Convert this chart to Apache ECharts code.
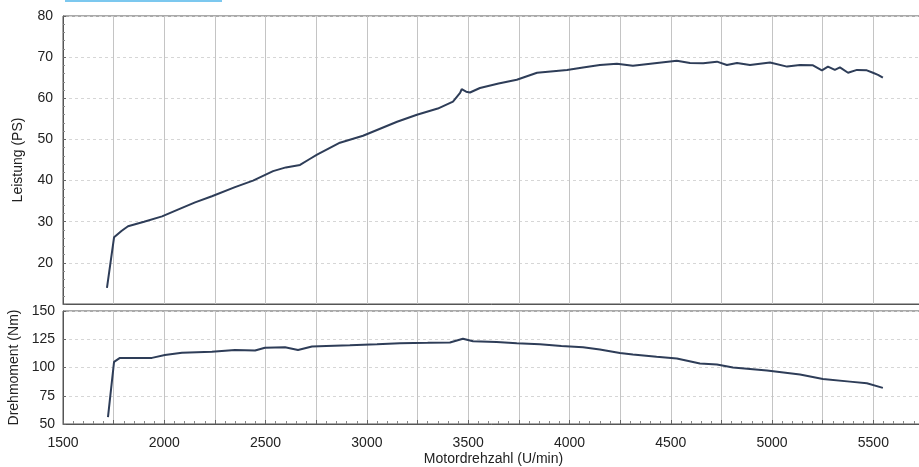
<!DOCTYPE html>
<html>
<head>
<meta charset="utf-8">
<script src="https://cdn.jsdelivr.net/npm/echarts@6/dist/echarts.min.js"></script>
<style>
  html, body { margin: 0; padding: 0; background: #fff; }
  #chart { width: 919px; height: 467px; }
</style>
</head>
<body>
<div id="chart"></div>
<script>
// Leistung (PS) over rpm
const powerRpm = [1717, 1752, 1790, 1821, 1900, 1989, 2070, 2152, 2235, 2349, 2438, 2537, 2600, 2670, 2720, 2754, 2867, 2981, 3050, 3149, 3247, 3350, 3425, 3460, 3468, 3490, 3509, 3558, 3650, 3740, 3840, 3988, 4067, 4150, 4234, 4313, 4432, 4530, 4595, 4660, 4728, 4777, 4827, 4891, 4990, 5074, 5138, 5202, 5246, 5276, 5310, 5335, 5375, 5419, 5468, 5498, 5523, 5547];
const powerPS = [13.9, 26.2, 27.8, 28.9, 30.0, 31.3, 33.0, 34.7, 36.2, 38.4, 40.0, 42.3, 43.2, 43.8, 45.3, 46.3, 49.2, 50.9, 52.3, 54.3, 56.0, 57.5, 59.2, 61.3, 62.2, 61.6, 61.4, 62.5, 63.6, 64.5, 66.2, 66.9, 67.5, 68.1, 68.4, 67.9, 68.6, 69.1, 68.6, 68.5, 68.9, 68.1, 68.6, 68.1, 68.7, 67.7, 68.1, 68.0, 66.8, 67.7, 66.9, 67.5, 66.2, 66.9, 66.8, 66.2, 65.7, 65.0];

// Drehmoment (Nm) over rpm
const torqueRpm = [1722, 1752, 1781, 1850, 1939, 2003, 2087, 2235, 2349, 2448, 2497, 2596, 2660, 2729, 2800, 2916, 3050, 3163, 3300, 3410, 3474, 3524, 3640, 3740, 3854, 3960, 4067, 4150, 4249, 4313, 4430, 4530, 4644, 4728, 4807, 4975, 5138, 5251, 5384, 5468, 5547];
const torqueNm = [56, 105, 108.5, 108.5, 108.5, 111, 113, 114, 115.5, 115, 117.5, 118, 115.5, 118.5, 119, 119.6, 120.5, 121.4, 121.8, 122.2, 125.5, 123.2, 122.5, 121.4, 120.5, 119, 117.9, 116, 112.8, 111.6, 109.5, 108, 103.6, 102.7, 100, 97.3, 93.8, 89.9, 87.5, 86, 82];

const xTicks = [1500, 2000, 2500, 3000, 3500, 4000, 4500, 5000, 5500];
const powerTicks = [20, 30, 40, 50, 60, 70, 80];
const torqueTicks = [50, 75, 100, 125, 150];

const font = "Liberation Sans";
const lineColor = "#2e3d58";

const pair = (xs, ys) => xs.map((x, i) => [x, ys[i]]);

const xBase = (gridIndex, showLabels) => ({
  type: "value",
  gridIndex,
  min: 1500,
  max: 5750,
  interval: 250,
  axisLine: { show: true, lineStyle: { color: "#555", width: 1 } },
  axisTick: { show: showLabels, inside: true, length: 4, lineStyle: { color: "#666" } },
  minorTick: { show: showLabels, splitNumber: 5, length: 3, lineStyle: { color: "#888" } },
  axisLabel: {
    show: showLabels,
    color: "#222",
    fontFamily: font,
    fontSize: 14,
    margin: 12,
    formatter: (v) => (xTicks.includes(v) ? String(v) : ""),
  },
  splitLine: { show: true, lineStyle: { color: "#c4c4c4", width: 1 } },
});

const chart = echarts.init(document.getElementById("chart"), null, { renderer: "canvas" });

chart.setOption({
  animation: false,
  backgroundColor: "#fff",
  graphic: [
    { type: "rect", shape: { x: 65, y: 0, width: 157, height: 2 }, style: { fill: "#7cc8ef" } },
  ],
  grid: [
    { left: 63, top: 16, width: 861, height: 288, show: true, borderColor: "#555", borderWidth: 1, outerBoundsMode: "none" },
    { left: 63, top: 311, width: 861, height: 113, show: true, borderColor: "#555", borderWidth: 1, outerBoundsMode: "none" },
  ],
  xAxis: [
    xBase(0, false),
    Object.assign(xBase(1, true), {
      name: "Motordrehzahl (U/min)",
      nameLocation: "middle",
      nameGap: 28,
      nameTextStyle: { color: "#222", fontFamily: font, fontSize: 14 },
    }),
  ],
  yAxis: [
    {
      type: "value",
      gridIndex: 0,
      min: 10,
      max: 80,
      interval: 10,
      name: "Leistung (PS)",
      nameLocation: "middle",
      nameGap: 38,
      nameTextStyle: { color: "#222", fontFamily: font, fontSize: 14 },
      axisLine: { show: true, lineStyle: { color: "#555" } },
      axisTick: { show: true, inside: true, length: 3, lineStyle: { color: "#666" } },
      minorTick: { show: true, splitNumber: 5, length: 2, lineStyle: { color: "#888" } },
      axisLabel: {
        color: "#222",
        fontFamily: font,
        fontSize: 14,
        margin: 10,
        formatter: (v) => (powerTicks.includes(v) ? String(v) : ""),
      },
      splitLine: { show: true, lineStyle: { color: "#d6d6d6", type: [3, 3], width: 1 } },
    },
    {
      type: "value",
      gridIndex: 1,
      min: 50,
      max: 150,
      interval: 25,
      name: "Drehmoment (Nm)",
      nameLocation: "middle",
      nameGap: 38,
      nameTextStyle: { color: "#222", fontFamily: font, fontSize: 14 },
      axisLine: { show: true, lineStyle: { color: "#555" } },
      axisTick: { show: true, inside: true, length: 3, lineStyle: { color: "#666" } },
      axisLabel: {
        color: "#222",
        fontFamily: font,
        fontSize: 14,
        margin: 8,
        formatter: (v) => (torqueTicks.includes(v) ? String(v) : ""),
      },
      splitLine: { show: true, lineStyle: { color: "#d6d6d6", type: [3, 3], width: 1 } },
    },
  ],
  series: [
    {
      type: "line",
      xAxisIndex: 0,
      yAxisIndex: 0,
      data: pair(powerRpm, powerPS),
      showSymbol: false,
      lineStyle: { color: lineColor, width: 2 },
    },
    {
      type: "line",
      xAxisIndex: 1,
      yAxisIndex: 1,
      data: pair(torqueRpm, torqueNm),
      showSymbol: false,
      lineStyle: { color: lineColor, width: 2 },
    },
  ],
});
</script>
</body>
</html>
